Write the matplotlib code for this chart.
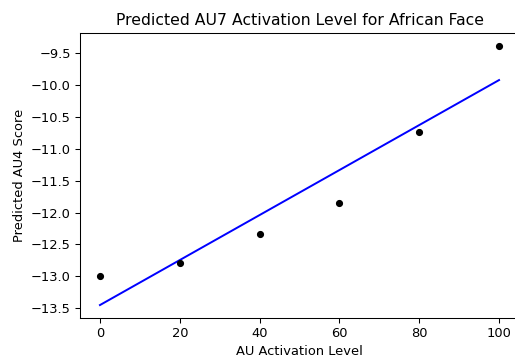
import matplotlib
matplotlib.use("Agg")
import matplotlib.pyplot as plt
import numpy as np

activation_levels = [0, 20, 40, 60, 80, 100]
predicted_scores = [-13.0, -12.80, -12.34, -11.85, -10.74, -9.39]

W, H = 515, 358
DPI = 94
fig = plt.figure(figsize=(W / DPI, H / DPI), dpi=DPI)
ax = fig.add_axes([80 / W, 1 - 318 / H, 439 / W, (318 - 33.3) / H])

ax.scatter(activation_levels, predicted_scores, color="black", s=20, zorder=3)
x = np.array(activation_levels, dtype=float)
coef = np.polyfit(x, predicted_scores, 1)
ax.plot(x, np.polyval(coef, x), color="blue", linewidth=1.5)

ax.set_title("Predicted AU7 Activation Level for African Face")
ax.set_xlabel("AU Activation Level")
ax.set_ylabel("Predicted AU4 Score")
ax.set_xticks([0, 20, 40, 60, 80, 100])
ax.set_yticks(np.arange(-13.5, -9.4, 0.5))

fig.savefig("out.png", dpi=DPI)
